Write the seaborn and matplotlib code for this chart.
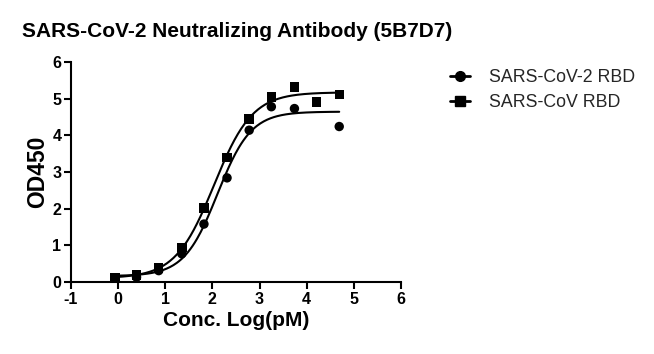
"""SARS-CoV-2 Neutralizing Antibody (5B7D7) - ELISA dose response"""
import seaborn as sns
import matplotlib.pyplot as plt
from matplotlib.lines import Line2D
import pandas as pd
import numpy as np

sns.set_theme(style='white')
plt.rcParams['font.family'] = ['Liberation Sans', 'DejaVu Sans']
plt.rcParams['axes.unicode_minus'] = False

# readings from the plate
log_conc = [-0.07, 0.39, 0.86, 1.35, 1.82, 2.31, 2.78, 3.25, 3.74, 4.21, 4.69]
od_cov2 = [0.11, 0.13, 0.31, 0.77, 1.58, 2.84, 4.14, 4.78, 4.73, np.nan, 4.24]
od_cov1 = [0.11, 0.19, 0.38, 0.94, 2.02, 3.40, 4.45, 5.05, 5.32, 4.91, 5.11]
series = ['SARS-CoV-2 RBD', 'SARS-CoV RBD']
markers = ['o', 's']


def four_pl(x, p):
    bot, top, ec50, hill = p
    return bot + (top - bot) / (1 + 10 ** ((ec50 - x) * hill))


def fit_4pl(x, y):
    # small Levenberg-Marquardt, numpy only
    x, y = np.asarray(x, float), np.asarray(y, float)
    ok = ~np.isnan(y)
    x, y = x[ok], y[ok]
    p = np.array([y.min(), y.max(), np.median(x), 1.0])
    lam = 1e-2
    for _ in range(300):
        r = y - four_pl(x, p)
        J = np.empty((len(x), 4))
        for k in range(4):
            dp = np.zeros(4); dp[k] = 1e-6
            J[:, k] = (four_pl(x, p + dp) - four_pl(x, p)) / 1e-6
        A = J.T @ J
        step = np.linalg.solve(A + lam * np.diag(np.diag(A)), J.T @ r)
        new = p + step
        if np.sum((y - four_pl(x, new)) ** 2) < np.sum(r ** 2):
            p, lam = new, lam * 0.5
        else:
            lam *= 4
    return p


rows, fits = [], []
for name, od in zip(series, [od_cov2, od_cov1]):
    for xv, yv in zip(log_conc, od):
        rows.append({'x': xv, 'OD': yv, 'Sample': name})
    p = fit_4pl(log_conc, od)
    xs = np.linspace(min(log_conc), max(log_conc), 200)
    fits.append(pd.DataFrame({'x': xs, 'OD': four_pl(xs, p), 'Sample': name}))
df = pd.DataFrame(rows).dropna()
df_fit = pd.concat(fits)

fig = plt.figure(figsize=(6.54, 3.54), dpi=100)
ax = fig.add_axes([0.1086, 0.2034, 0.5045, 0.6215])

sns.lineplot(data=df_fit, x='x', y='OD', hue='Sample', palette=['black', 'black'],
             lw=1.5, legend=False, ax=ax)
sns.scatterplot(data=df, x='x', y='OD', style='Sample', markers=dict(zip(series, markers)),
                color='black', s=46, edgecolor='black', linewidth=0, legend=False, ax=ax)

ax.set_xlim(-1, 6)
ax.set_ylim(0, 6)
ax.set_xticks(range(-1, 7))
ax.set_yticks(range(0, 7))
for side in ['top', 'right']:
    ax.spines[side].set_visible(False)
for side in ['left', 'bottom']:
    ax.spines[side].set_color('black')
    ax.spines[side].set_linewidth(1.5)
ax.tick_params(axis='both', direction='out', length=5, width=1.5, color='black',
               labelsize=11.5, labelcolor='black', pad=2, bottom=True, left=True)
for lab in ax.get_xticklabels() + ax.get_yticklabels():
    lab.set_fontweight('bold')
ax.set_xlabel('Conc. Log(pM)', fontsize=15, fontweight='bold', color='black', labelpad=3)
ax.set_ylabel('OD450', fontsize=16.5, fontweight='bold', color='black', labelpad=2)

fig.text(0.034, 0.895, 'SARS-CoV-2 Neutralizing Antibody (5B7D7)',
         fontsize=15, fontweight='bold', color='black')

handles = [Line2D([], [], color='black', lw=2, marker=m, markersize=7)
           for m in markers]
fig.legend(handles, series, loc='upper left', bbox_to_anchor=(0.664, 0.85),
           frameon=False, fontsize=12.8, handlelength=1.1, handletextpad=1.1,
           labelspacing=0.45)

fig.savefig('out.png', dpi=100, facecolor='white')
